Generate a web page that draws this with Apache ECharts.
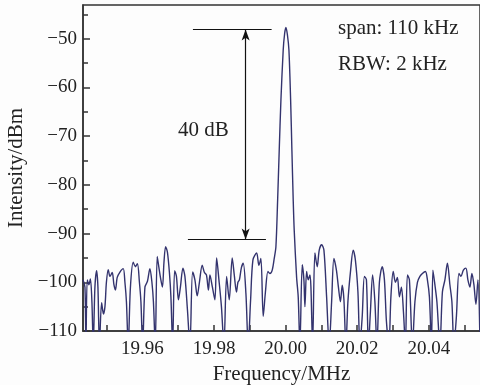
<!DOCTYPE html>
<html>
<head>
<meta charset="utf-8">
<script src="https://cdn.jsdelivr.net/npm/echarts@6/dist/echarts.min.js"></script>
<style>
  html, body { margin: 0; padding: 0; background: #fdfdfd; }
  #chart { width: 480px; height: 385px; }
</style>
</head>
<body>
<div id="chart"></div>
<script>
// spectrum trace: offset from 20 MHz carrier (kHz) and level (dBm)
const offsetKHz = [
  -56.60, -56.06, -55.78, -55.42, -54.94, -54.53, -54.11, -53.74, -53.27, -52.79,
  -52.43, -52.01, -51.40, -50.89, -50.47, -50.06, -49.55, -49.08, -48.44, -47.96,
  -47.54, -47.04, -46.28, -45.36, -44.89, -44.47, -43.97, -43.35, -42.57, -41.96,
  -41.40, -40.84, -40.42, -39.94, -39.30, -38.60, -37.91, -37.35, -36.93, -36.42,
  -35.87, -35.39, -34.97, -34.41, -33.99, -33.52, -33.02, -32.46, -32.04, -31.56,
  -31.01, -30.50, -29.94, -29.39, -28.69, -28.13, -27.43, -26.73, -25.98, -25.34,
  -24.69, -24.08, -23.30, -22.68, -22.12, -21.56, -21.15, -20.45, -19.75, -19.27,
  -18.63, -17.93, -17.23, -16.48, -15.75, -14.92, -14.30, -13.74, -13.32, -12.91,
  -12.35, -11.84, -11.09, -10.45, -9.78, -9.13, -8.10, -7.46, -6.90, -6.26,
  -5.64, -4.94, -4.39, -3.74, -3.18, -2.71, -2.23, -1.79, -1.31, -0.67,
  -0.28, 0.08, 0.50, 0.92, 1.40, 1.76, 2.12, 2.40, 3.07, 3.52,
  3.99, 4.64, 5.11, 5.39, 5.87, 6.31, 6.79, 7.07, 7.54, 8.18,
  8.83, 9.39, 10.06, 10.70, 11.45, 12.18, 12.85, 13.49, 14.19, 14.75,
  15.31, 15.81, 16.28, 16.84, 17.40, 18.16, 18.88, 19.50, 20.20, 20.75,
  21.40, 22.01, 22.57, 23.13, 23.69, 24.30, 24.94, 25.50, 26.20, 26.98,
  27.60, 28.16, 28.85, 29.41, 30.06, 30.67, 31.23, 31.79, 32.35, 32.91,
  33.46, 34.02, 34.58, 35.42, 36.12, 36.82, 37.51, 38.21, 39.05, 39.61,
  40.17, 40.73, 41.15, 41.70, 42.26, 43.10, 43.80, 44.50, 45.20, 45.89,
  46.45, 47.01, 47.71, 48.41, 48.97, 49.66, 50.36, 50.92, 51.48, 52.04,
  52.60, 53.16, 53.72, 54.30
];
const levelDbm = [
  -99.5, -101, -113, -99.5, -100.5, -99.3, -104, -113, -101, -97.6,
  -101, -113, -104.2, -106.5, -105, -100, -97.4, -98.8, -98, -100.5,
  -101.6, -99, -97.9, -97.2, -100, -104, -113, -101, -95.9, -96.8,
  -96.2, -100, -104, -113, -101, -99.8, -97.2, -100, -104, -113,
  -94.7, -97, -99, -101, -96, -92.7, -93.8, -98, -103, -113,
  -97.6, -98.8, -103.6, -101, -97.1, -98.8, -105.6, -113, -97.9, -99.5,
  -102.8, -100, -96.5, -98, -98.5, -101.6, -98.5, -101, -103.6, -95,
  -99.5, -105, -113, -98.8, -103.6, -95, -98.8, -102, -100, -99.5,
  -97, -96.1, -102.3, -113, -103.6, -95.4, -94, -96.5, -95.1, -107,
  -102, -97.8, -98.2, -97.5, -95.1, -92.7, -83.1, -73, -62.6, -52.3,
  -49, -47.7, -49.2, -52.3, -62.6, -73, -83.1, -89.3, -99, -103,
  -113, -96.4, -99.5, -105, -97.8, -99.5, -98.5, -101, -113, -94,
  -96.8, -93.4, -92.3, -93.4, -103, -113, -104, -95.1, -97.5, -101,
  -104, -100.6, -103.5, -113, -104, -97.5, -93.4, -95.5, -102, -113,
  -107, -98.8, -99.5, -113, -106, -98.5, -104, -113, -100, -96.8,
  -99.5, -108, -113, -103, -97.8, -100, -99, -103, -101, -106,
  -113, -98.5, -99.5, -113, -104, -100, -98.8, -98.2, -97.8, -99.5,
  -103, -113, -97.5, -100.5, -104, -113, -102, -99.5, -96.1, -100.5,
  -104, -113, -107, -98.2, -98.8, -97.5, -97.1, -99.5, -101, -98.2,
  -100.5, -104.5, -99.5, -113
];

const xLabelValues = [19.96, 19.98, 20.00, 20.02, 20.04];
const xTickValues = [19.95, 19.96, 19.97, 19.98, 19.99, 20.00, 20.01, 20.02, 20.03, 20.04, 20.05];
const yLabelValues = [-110, -100, -90, -80, -70, -60, -50];
const yMinorValues = [-105, -95, -85, -75, -65, -55, -45];

// 40 dB marker: two levels, start/end of each bar and the arrow position (kHz offsets)
const markerLevels = [-48.15, -91.2];
const topBar = [-25.89, -3.91];
const bottomBar = [-27.29, -5.50];
const arrowAt = -11.17;

const toMHz = (k) => 20 + k / 1000;
const trace = offsetKHz.map((k, i) => [toMHz(k), levelDbm[i]]);

const serif = "Liberation Serif";
const frame = "#333";

const chart = echarts.init(document.getElementById("chart"));
chart.setOption({
  animation: false,
  backgroundColor: "#fdfdfd",
  grid: {
    left: 83, right: 0, top: 5, bottom: 54,
    outerBoundsMode: "none",
    show: true, borderColor: frame, borderWidth: 1.5
  },
  xAxis: {
    type: "value",
    min: 19.9434,
    max: 20.0543,
    name: "Frequency/MHz",
    nameLocation: "middle",
    nameGap: 29,
    nameTextStyle: { fontFamily: serif, fontSize: 21, color: "#222" },
    axisLine: { lineStyle: { color: frame, width: 1.5 } },
    axisTick: {
      inside: true, length: 6, customValues: xTickValues,
      lineStyle: { color: frame, width: 1.5 }
    },
    axisLabel: {
      customValues: xLabelValues,
      formatter: (v) => v.toFixed(2),
      fontFamily: serif, fontSize: 19, color: "#222", margin: 9
    },
    splitLine: { show: false }
  },
  yAxis: [
    {
      type: "value",
      min: -110,
      max: -43.1,
      name: "Intensity/dBm",
      nameLocation: "middle",
      nameGap: 55,
      nameTextStyle: { fontFamily: serif, fontSize: 21, color: "#222" },
      axisLine: { lineStyle: { color: frame, width: 1.5 } },
      axisTick: {
        inside: true, length: 7, customValues: yLabelValues,
        lineStyle: { color: frame, width: 1.5 }
      },
      axisLabel: {
        customValues: yLabelValues,
        formatter: (v) => String(v).replace("-", "\u2212"),
        fontFamily: serif, fontSize: 19, color: "#222", margin: 6
      },
      splitLine: { show: false }
    },
    {
      type: "value",
      min: -110,
      max: -43.1,
      position: "left",
      axisLine: { show: false },
      axisTick: {
        inside: true, length: 5, customValues: yMinorValues,
        lineStyle: { color: frame, width: 1.5 }
      },
      axisLabel: { show: false },
      splitLine: { show: false }
    }
  ],
  series: [
    {
      type: "line",
      data: trace,
      showSymbol: false,
      smooth: 0.3,
      lineStyle: { color: "#33336e", width: 1.4 },
      markLine: {
        silent: true,
        symbol: ["none", "none"],
        label: { show: false },
        lineStyle: { color: "#111", width: 1.2, type: "solid" },
        data: [
          [{ coord: [toMHz(topBar[0]), markerLevels[0]] }, { coord: [toMHz(topBar[1]), markerLevels[0]] }],
          [{ coord: [toMHz(bottomBar[0]), markerLevels[1]] }, { coord: [toMHz(bottomBar[1]), markerLevels[1]] }],
          [
            { coord: [toMHz(arrowAt), markerLevels[0]], symbol: "arrow", symbolSize: [6, 11] },
            { coord: [toMHz(arrowAt), markerLevels[1]], symbol: "arrow", symbolSize: [6, 11] }
          ]
        ]
      }
    }
  ],
  graphic: [
    { type: "text", left: 178, top: 120, style: { text: "40 dB", font: "21px " + serif, fill: "#222" } },
    { type: "text", left: 338, top: 18, style: { text: "span: 110 kHz", font: "21px " + serif, fill: "#222" } },
    { type: "text", left: 338, top: 54, style: { text: "RBW: 2 kHz", font: "21px " + serif, fill: "#222" } }
  ]
});
</script>
</body>
</html>
